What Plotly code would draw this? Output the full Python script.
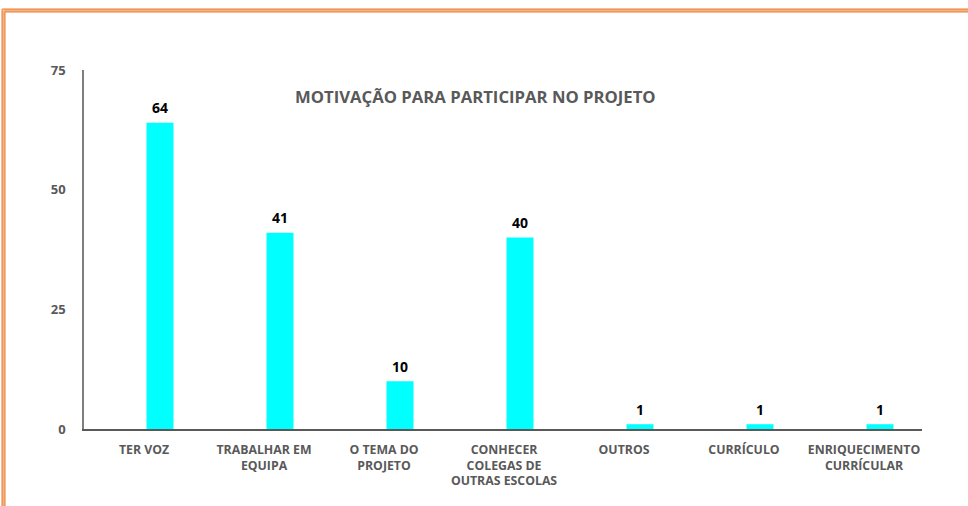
import plotly.graph_objects as go

categories = ["TER VOZ", "TRABALHAR EM<br>EQUIPA", "O TEMA DO<br>PROJETO",
              "CONHECER<br>COLEGAS DE<br>OUTRAS ESCOLAS", "OUTROS", "CURRÍCULO",
              "ENRIQUECIMENTO<br>CURRÍCULAR"]
values = [64, 41, 10, 40, 1, 1, 1]
y_ticks = [0, 25, 50, 75]
title_text = "MOTIVAÇÃO PARA PARTICIPAR NO PROJETO"

xs = list(range(len(categories)))
FONT = "Open Sans"
GRAY = "#595959"
BAR_W = 0.225
BAR_SHIFT = 16 / 120  # bars sit right of category centres

fig = go.Figure()
fig.add_trace(go.Bar(x=xs, y=values, width=BAR_W, offset=BAR_SHIFT - BAR_W / 2,
                     marker=dict(color="#00FFFF", line=dict(width=0)), hoverinfo="skip"))

for x, v in zip(xs, values):
    fig.add_annotation(x=x, y=v, text=f"<b>{v}</b>", showarrow=False, yshift=15, xshift=16,
                       font=dict(family=FONT, size=14, color="#000000"))

fig.add_annotation(xref="paper", yref="paper", x=(475 - 84) / 838, y=(429 - 97) / 359,
                   xanchor="center", yanchor="middle",
                   text=f"<b>{title_text}</b>", showarrow=False,
                   font=dict(family=FONT, size=16.7, color=GRAY))

def px_x(px):
    return (px - 84) / 838

def px_y(py):
    return (429 - py) / 359

border = [
    dict(type="line", xref="paper", yref="paper", x0=px_x(3.5), x1=1.2, y0=px_y(10.5), y1=px_y(10.5),
         line=dict(color="#F4B183", width=3)),
    dict(type="line", xref="paper", yref="paper", x0=px_x(3.5), x1=px_x(3.5), y0=px_y(10.5), y1=-0.3,
         line=dict(color="#F4B183", width=3)),
    dict(type="line", xref="paper", yref="paper", x0=px_x(2), x1=1.2, y0=px_y(9), y1=px_y(9),
         line=dict(color="#ED7D31", width=1)),
    dict(type="line", xref="paper", yref="paper", x0=px_x(2), x1=px_x(2), y0=px_y(9), y1=-0.3,
         line=dict(color="#ED7D31", width=1)),
    dict(type="line", xref="paper", yref="paper", x0=px_x(5), x1=1.2, y0=px_y(12), y1=px_y(12),
         line=dict(color="#ED7D31", width=1)),
    dict(type="line", xref="paper", yref="paper", x0=px_x(5), x1=px_x(5), y0=px_y(12), y1=-0.3,
         line=dict(color="#ED7D31", width=1)),
]

fig.update_layout(
    width=968, height=506,
    margin=dict(l=84, r=46, t=70, b=77),
    paper_bgcolor="white", plot_bgcolor="white",
    showlegend=False,
    shapes=border,
    xaxis=dict(range=[-0.5, 838 / 120 - 0.5], tickmode="array", tickvals=xs, ticktext=categories,
               showgrid=False, zeroline=False, showline=True, linecolor="#595959", linewidth=1.5,
               ticks="", tickangle=0, ticklabelstandoff=8,
               tickfont=dict(family=FONT, size=12.3, color=GRAY, weight="bold")),
    yaxis=dict(range=[0, 75], tickvals=y_ticks, showgrid=False, zeroline=False,
               showline=True, linecolor="#7F7F7F", linewidth=1.5, ticks="", ticklabelstandoff=14,
               tickfont=dict(family=FONT, size=13, color=GRAY, weight="bold")),
)

fig.write_html("out.html", config={"displayModeBar": False},
               post_script="document.body.style.margin='0';")
